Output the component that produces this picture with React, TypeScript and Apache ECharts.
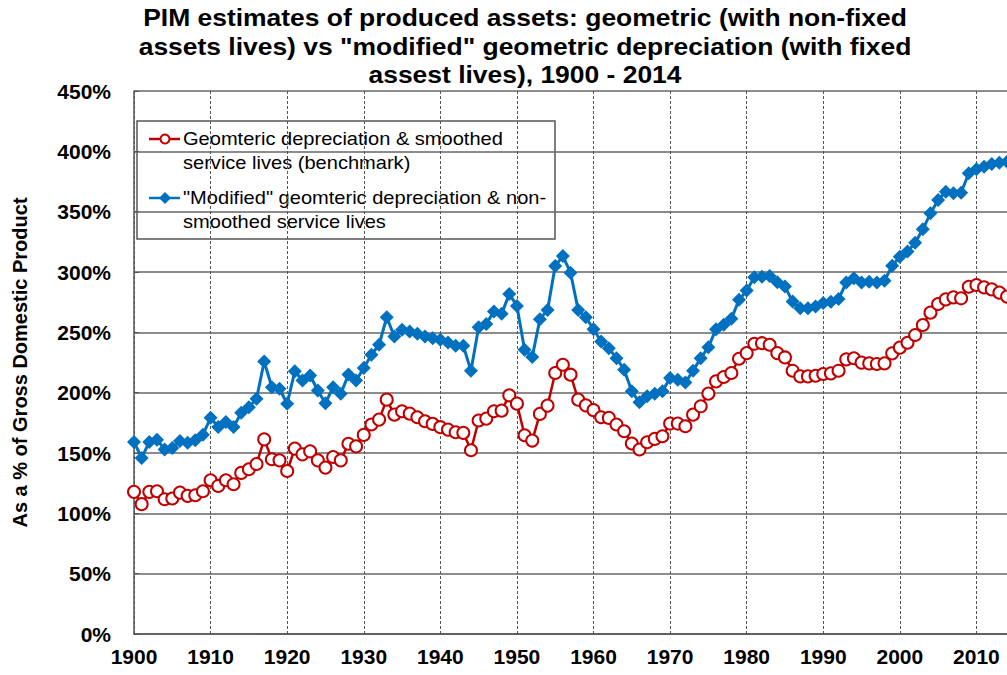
import React, { useEffect, useRef } from "react";
import * as echarts from "echarts";

const startYear = 1900;

const benchmark = [
  117.8, 107.6, 117.8, 118.3, 111.7, 112.3, 117.2, 114.5, 115.0, 118.3,
  127.4, 122.7, 127.4, 124.1, 133.5, 136.5, 140.9, 161.3, 144.8, 143.9,
  135.1, 153.6, 148.9, 151.4, 143.9, 137.9, 146.7, 143.9, 157.7, 155.5,
  165.0, 173.6, 177.7, 194.2, 181.8, 184.6, 182.6, 179.6, 176.3, 174.1,
  171.4, 169.4, 167.2, 166.7, 152.3, 176.9, 178.5, 184.6, 185.1, 197.8,
  190.9, 164.7, 160.3, 182.4, 189.3, 216.3, 223.1, 214.9, 194.2, 189.5,
  185.5, 179.6, 179.1, 173.6, 168.0, 157.9, 152.9, 158.9, 161.7, 163.9,
  174.4, 174.4, 172.2, 181.8, 188.7, 199.2, 209.4, 213.0, 216.3, 228.1,
  232.8, 240.5, 241.0, 239.7, 232.8, 229.2, 218.2, 213.5, 213.5, 214.0,
  215.5, 216.0, 218.2, 227.6, 228.5, 224.9, 224.3, 223.8, 224.3, 232.6,
  237.3, 241.4, 247.8, 256.1, 266.3, 273.5, 277.3, 279.0, 278.2, 287.8,
  289.2, 287.3, 285.6, 282.9, 279.6,
];

const modified = [
  159.1, 145.9, 159.1, 161.0, 153.0, 154.1, 159.9, 158.5, 160.5, 165.2,
  179.2, 171.5, 175.6, 171.5, 183.3, 188.0, 194.9, 225.8, 204.5, 203.2,
  190.8, 217.8, 210.1, 214.2, 201.8, 191.3, 204.5, 199.0, 215.0, 210.1,
  220.4, 231.4, 239.7, 262.5, 246.6, 252.1, 250.7, 248.8, 246.6, 245.2,
  243.8, 241.6, 238.8, 238.8, 218.2, 254.3, 257.0, 267.2, 265.3, 281.8,
  271.9, 235.5, 229.5, 260.9, 268.6, 305.0, 313.2, 299.4, 268.6, 262.5,
  252.6, 242.4, 236.9, 228.6, 219.0, 201.1, 192.0, 197.0, 199.2, 201.1,
  212.1, 210.7, 208.5, 218.2, 228.6, 237.7, 252.6, 256.2, 261.2, 276.9,
  284.6, 295.6, 296.1, 296.7, 291.5, 287.9, 275.5, 270.0, 270.0, 271.4,
  274.3, 275.4, 277.6, 291.2, 294.8, 291.4, 292.0, 291.4, 292.8, 305.2,
  312.7, 316.9, 324.3, 335.4, 348.6, 359.7, 366.6, 365.2, 365.7, 381.8,
  385.1, 387.3, 389.5, 390.6, 391.4,
];

const seriesNames = [
  "Geomteric depreciation & smoothed\nservice lives (benchmark)",
  "\"Modified\" geomteric depreciation & non-\nsmoothed service lives",
];

const titleText =
  "PIM estimates of produced assets: geometric (with non-fixed\nassets lives) vs \"modified\" geometric depreciation (with fixed\nassest lives), 1900 - 2014";

const yAxisTitle = "As a % of Gross Domestic Product";

const RED = "#C00000";
const BLUE = "#0070C0";
const FONT = "Arial, 'Liberation Sans', sans-serif";

const toPairs = (vals: number[]) => vals.map((v, i) => [startYear + i, v]);

export default function App() {
  const ref = useRef<HTMLDivElement>(null);

  useEffect(() => {
    if (!ref.current) return;
    const chart = echarts.init(ref.current, null, { renderer: "svg" });
    chart.setOption({
      animation: false,
      backgroundColor: "#fff",
      grid: {
        left: 134,
        top: 91,
        bottom: 41,
        right: -46,
        containLabel: false,
        outerBoundsMode: "none",
      },
      xAxis: {
        type: "value",
        min: 1900,
        max: 2020,
        interval: 10,
        axisLine: { show: true, lineStyle: { color: "#555", width: 1.5 } },
        axisTick: { show: false },
        axisLabel: {
          color: "#000",
          fontSize: 21,
          fontWeight: "bold",
          fontFamily: FONT,
          margin: 12,
          showMaxLabel: false,
          formatter: (v: number) => String(v),
        },
        splitLine: { show: true, lineStyle: { color: "#555", type: [3, 2], width: 1 } },
      },
      yAxis: {
        type: "value",
        min: 0,
        max: 450,
        interval: 50,
        name: yAxisTitle,
        nameLocation: "middle",
        nameGap: 104,
        nameTextStyle: { color: "#000", fontSize: 20, fontWeight: "bold", fontFamily: FONT },
        axisLine: { show: true, lineStyle: { color: "#555", width: 1.5 } },
        axisTick: { show: true, inside: true, length: 5, lineStyle: { color: "#555" } },
        axisLabel: {
          color: "#000",
          fontSize: 21,
          fontWeight: "bold",
          fontFamily: FONT,
          margin: 23,
          formatter: "{value}%",
        },
        splitLine: { show: true, lineStyle: { color: "#666", width: 1.5 } },
      },
      series: [
        {
          name: seriesNames[0],
          type: "line",
          data: toPairs(benchmark),
          symbol: "emptyCircle",
          symbolSize: 12,
          lineStyle: { color: RED, width: 2.5 },
          itemStyle: { color: RED, borderColor: RED, borderWidth: 2 },
          z: 3,
        },
        {
          name: seriesNames[1],
          type: "line",
          data: toPairs(modified),
          symbol: "diamond",
          symbolSize: 14,
          lineStyle: { color: BLUE, width: 3 },
          itemStyle: { color: BLUE },
          z: 4,
        },
      ],
      graphic: [
        {
          type: "text",
          x: 525,
          y: 4,
          scaleX: 1.15,
          style: {
            text: titleText,
            textAlign: "center",
            textVerticalAlign: "top",
            font: `bold 23px ${FONT}`,
            lineHeight: 28.5,
            fill: "#000",
          },
          z: 10,
        },
        {
          type: "group",
          z: 10,
          children: [
            {
              type: "rect",
              shape: { x: 137, y: 121, width: 418, height: 118 },
              style: { fill: "#fff", stroke: "#555", lineWidth: 1.5 },
            },
            {
              type: "line",
              shape: { x1: 149, y1: 139, x2: 180, y2: 139 },
              style: { stroke: RED, lineWidth: 2.5 },
            },
            {
              type: "circle",
              shape: { cx: 165, cy: 139, r: 4.5 },
              style: { fill: "#fff", stroke: RED, lineWidth: 2 },
            },
            {
              type: "text",
              x: 183,
              y: 127,
              scaleX: 1.115,
              style: {
                text: seriesNames[0],
                font: `18px ${FONT}`,
                lineHeight: 24,
                fill: "#000",
                textVerticalAlign: "top",
              },
            },
            {
              type: "line",
              shape: { x1: 149, y1: 198, x2: 180, y2: 198 },
              style: { stroke: BLUE, lineWidth: 2.5 },
            },
            {
              type: "polygon",
              shape: { points: [[165, 192], [171, 198], [165, 204], [159, 198]] },
              style: { fill: BLUE },
            },
            {
              type: "text",
              x: 183,
              y: 186,
              scaleX: 1.115,
              style: {
                text: seriesNames[1],
                font: `18px ${FONT}`,
                lineHeight: 24,
                fill: "#000",
                textVerticalAlign: "top",
              },
            },
          ],
        },
      ],
    });
    return () => chart.dispose();
  }, []);

  return (
    <div
      ref={ref}
      style={{ position: "absolute", left: 0, top: 0, width: 1007, height: 675, overflow: "hidden" }}
    />
  );
}
